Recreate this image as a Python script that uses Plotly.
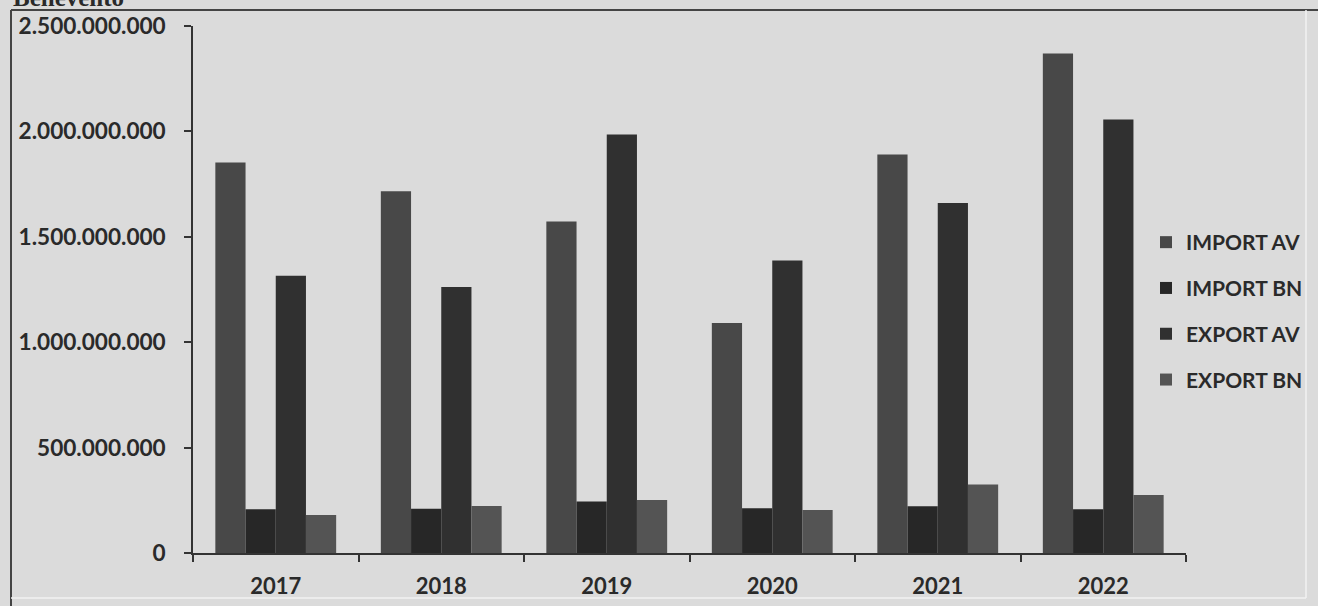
import plotly.graph_objects as go

# Annual trade values (euro) by year
years = ["2017", "2018", "2019", "2020", "2021", "2022"]
import_av = [1853000000, 1716000000, 1573000000, 1091000000, 1890000000, 2369000000]
import_bn = [207000000, 210000000, 244000000, 212000000, 222000000, 207000000]
export_av = [1315000000, 1262000000, 1985000000, 1387000000, 1660000000, 2056000000]
export_bn = [180000000, 223000000, 252000000, 204000000, 325000000, 275000000]

series_names = ["IMPORT AV", "IMPORT BN", "EXPORT AV", "EXPORT BN"]
series_values = [import_av, import_bn, export_av, export_bn]
series_colors = ["#484848", "#272727", "#303030", "#545454"]

W, H = 1318, 606
L, R, T, B = 193, 132, 26, 53
PW, PH = W - L - R, H - T - B


def px_x(p):
    return (p - L) / PW


def px_y(p):
    return 1 - (p - T) / PH


BG = "#dbdbdb"
INK = "#2a2a2a"
FONT = "Lato"

fig = go.Figure()
for i, (name, vals, col) in enumerate(zip(series_names, series_values, series_colors)):
    fig.add_trace(go.Bar(
        x=years, y=vals, name=name,
        marker=dict(color=col, line=dict(width=0)),
        legendgroup=f"g{i}",
    ))

fig.update_layout(
    width=W, height=H,
    margin=dict(l=L, r=R, t=T, b=B, autoexpand=False),
    paper_bgcolor=BG, plot_bgcolor=BG,
    separators=",.",
    barmode="group", bargap=0.27, bargroupgap=0,
    font=dict(family=FONT, size=23, color=INK),
    showlegend=True,
    legend=dict(
        x=px_x(1146), xanchor="left", y=px_y(222), yanchor="top",
        bgcolor="rgba(0,0,0,0)", tracegroupgap=15.5,
        font=dict(family=FONT, size=21, color=INK, weight="bold"),
        traceorder="grouped",
    ),
    xaxis=dict(
        type="category", showgrid=False, zeroline=False,
        showline=True, linecolor="#333333", linewidth=1.5,
        ticks="outside", ticklen=7, tickwidth=1.5, tickcolor="#333333",
        tickson="boundaries",
        tickfont=dict(family=FONT, size=22, color=INK, weight="bold"),
        ticklabelstandoff=13,
    ),
    yaxis=dict(
        range=[0, 2500000000], dtick=500000000, tickformat=",d",
        showgrid=False, zeroline=False,
        showline=True, linecolor="#333333", linewidth=1.5,
        ticks="outside", ticklen=7, tickwidth=1.5, tickcolor="#333333",
        tickfont=dict(family=FONT, size=22.6, color=INK, weight="bold"),
        ticklabelstandoff=14,
    ),
)

# Chart frame
frame = [
    (11, 10, 1318, 10, "#444444", 2),
    (11, 10, 11, 606, "#444444", 2),
    (11, 598, 1306, 598, "#f2f2f2", 1.5),
    (1306, 10, 1306, 598, "#f2f2f2", 1.5),
]
for x0, y0, x1, y1, c, w in frame:
    fig.add_shape(type="line", xref="paper", yref="paper",
                  x0=px_x(x0), y0=px_y(y0), x1=px_x(x1), y1=px_y(y1),
                  line=dict(color=c, width=w), layer="above")

# Heading above the frame
fig.add_annotation(
    text="Benevento", xref="paper", yref="paper",
    x=px_x(11), y=px_y(13), xanchor="left", yanchor="bottom",
    showarrow=False,
    font=dict(family="Liberation Serif", size=25, color="#2a2a2a", weight="bold"),
)

fig.write_html("out.html")
